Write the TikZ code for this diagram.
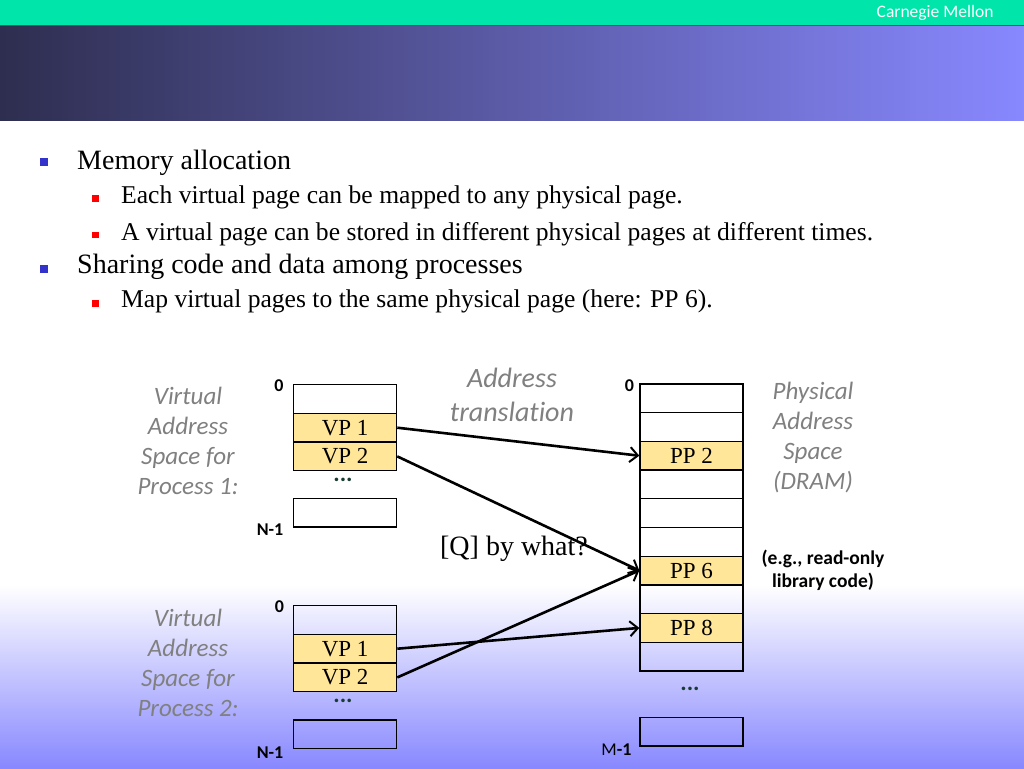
\documentclass[tikz,border=0pt]{standalone}
\usepackage{fontspec}
\setmainfont{Liberation Serif}
\newfontfamily\calibri[Ligatures={NoCommon}]{Carlito}
\usetikzlibrary{arrows.meta}
\definecolor{hdrteal}{RGB}{0,229,170}
\definecolor{hdrline}{RGB}{20,110,100}
\definecolor{hdrdark}{RGB}{46,46,80}
\definecolor{hdrmid}{RGB}{98,98,182}
\definecolor{hdrlight}{RGB}{136,136,255}
\definecolor{pagefill}{RGB}{255,230,153}
\definecolor{labelgray}{RGB}{128,128,128}
\definecolor{bulletblue}{RGB}{51,51,204}
\definecolor{dotgreen}{RGB}{25,60,50}
\tikzset{
  cell/.style={draw, line width=1.3pt, minimum width=103pt, minimum height=28.7pt,
    inner sep=0pt, anchor=north west, font=\fontsize{23}{25}\selectfont},
  page/.style={cell, fill=pagefill},
  spacelabel/.style={align=center, text=labelgray, font=\calibri\itshape\fontsize{25}{30}\selectfont},
  addr/.style={font=\calibri\bfseries\fontsize{18}{20}\selectfont},
  dots/.style={inner sep=0pt, text=dotgreen, font=\calibri\bfseries\fontsize{24}{24}\selectfont},
  map/.style={line width=2.6pt, -{Straight Barb[length=8pt,width=15pt,line width=2pt]}},
  lvlone/.style={anchor=base west, inner sep=0pt, font=\fontsize{28}{30}\selectfont},
  lvltwo/.style={anchor=base west, inner sep=0pt, font=\fontsize{25.6}{28}\selectfont},
}
\begin{document}
\begin{tikzpicture}[x=1pt,y=-1pt]
\useasboundingbox (0,0) rectangle (1024,768);
\fill[white] (0,0) rectangle (1024,768);
\shade[top color=white, bottom color=hdrlight] (0,585) rectangle (1024,768);
\fill[hdrteal] (0,0) rectangle (1024,25);
\fill[hdrline] (0,25) rectangle (1024,27);
\shade[left color=hdrdark, middle color=hdrmid, right color=hdrlight] (0,27) rectangle (1024,120);
\node[anchor=east, text=white, font=\calibri\fontsize{17.5}{19}\selectfont] (brand) at (997,13) {Carnegie Mellon};

\fill[bulletblue] (40,158) rectangle (48,166);
\node[lvlone] (b1) at (77,169) {Memory allocation};
\fill[red] (92,195) rectangle (98.5,201.5);
\node[lvltwo] (b1a) at (121,203.5) {Each virtual page can be mapped to any physical page.};
\fill[red] (92,231.5) rectangle (98.5,238);
\node[lvltwo] (b1b) at (121,240) {A virtual page can be stored in different physical pages at different times.};
\fill[bulletblue] (40,265) rectangle (48,273);
\node[lvlone] (b2) at (77,273.5) {Sharing code and data among processes};
\fill[red] (92,300) rectangle (98.5,306.5);
\node[lvltwo] (b2a) at (121,307) {Map virtual pages to the same physical page (here: PP 6).};

\node[cell] (pa0) at (293,384) {};
\node[page] (pa1) at (293,412.7) {VP 1};
\node[page] (pa2) at (293,441.4) {VP 2};
\node[dots] (pad) at (343,479.5) {...};
\node[cell] (paN) at (293,497.7) {};
\node[addr] (pa0l) at (279,385.5) {0};
\node[addr] (paNl) at (270,530) {N-1};
\node[spacelabel] (pal) at (188,441) {Virtual\\Address\\Space for\\Process 1:};

\node[cell] (pb0) at (293,605) {};
\node[page] (pb1) at (293,633.7) {VP 1};
\node[page] (pb2) at (293,662.4) {VP 2};
\node[dots] (pbd) at (343,700.5) {...};
\node[cell] (pbN) at (293,719.3) {};
\node[addr] (pb0l) at (279.5,606.5) {0};
\node[addr] (pbNl) at (270,753) {N-1};
\node[spacelabel] (pbl) at (188,663) {Virtual\\Address\\Space for\\Process 2:};

\node[cell] (pm0) at (639.3,383.3) {};
\node[cell] (pm1) at (639.3,412.0) {};
\node[page] (pm2) at (639.3,440.7) {PP 2};
\node[cell] (pm3) at (639.3,469.4) {};
\node[cell] (pm4) at (639.3,498.1) {};
\node[cell] (pm5) at (639.3,526.8) {};
\node[page] (pm6) at (639.3,555.5) {PP 6};
\node[cell] (pm7) at (639.3,584.2) {};
\node[page] (pm8) at (639.3,612.9) {PP 8};
\node[cell] (pm9) at (639.3,641.6) {};
\node[dots] (pmd) at (690,689) {...};
\node[cell] (pmM) at (639.3,716.7) {};
\node[addr] (pm0l) at (629.5,385.5) {0};
\node[addr] (pmMl) at (616.5,749.5) {\mdseries M\bfseries -1};
\node[spacelabel] (pml) at (813,438) {Physical\\Address\\Space\\(DRAM)};

\node[spacelabel, font=\calibri\itshape\fontsize{28}{34}\selectfont] (xlat) at (512,395) {Address\\translation};
\node[font=\fontsize{28}{30}\selectfont] (qq) at (514,549) {[Q] by what?};
\node[align=center, font=\calibri\bfseries\fontsize{19.5}{23}\selectfont] (shared) at (823,570) {(e.g., read-only\\library code)};

\draw[map] (pa1.east) -- (pm2.west);
\draw[map] (pa2.east) -- (pm6.west);
\draw[map] (pb1.east) -- (pm8.west);
\draw[map] (pb2.east) -- (pm6.west);
\end{tikzpicture}
\end{document}
